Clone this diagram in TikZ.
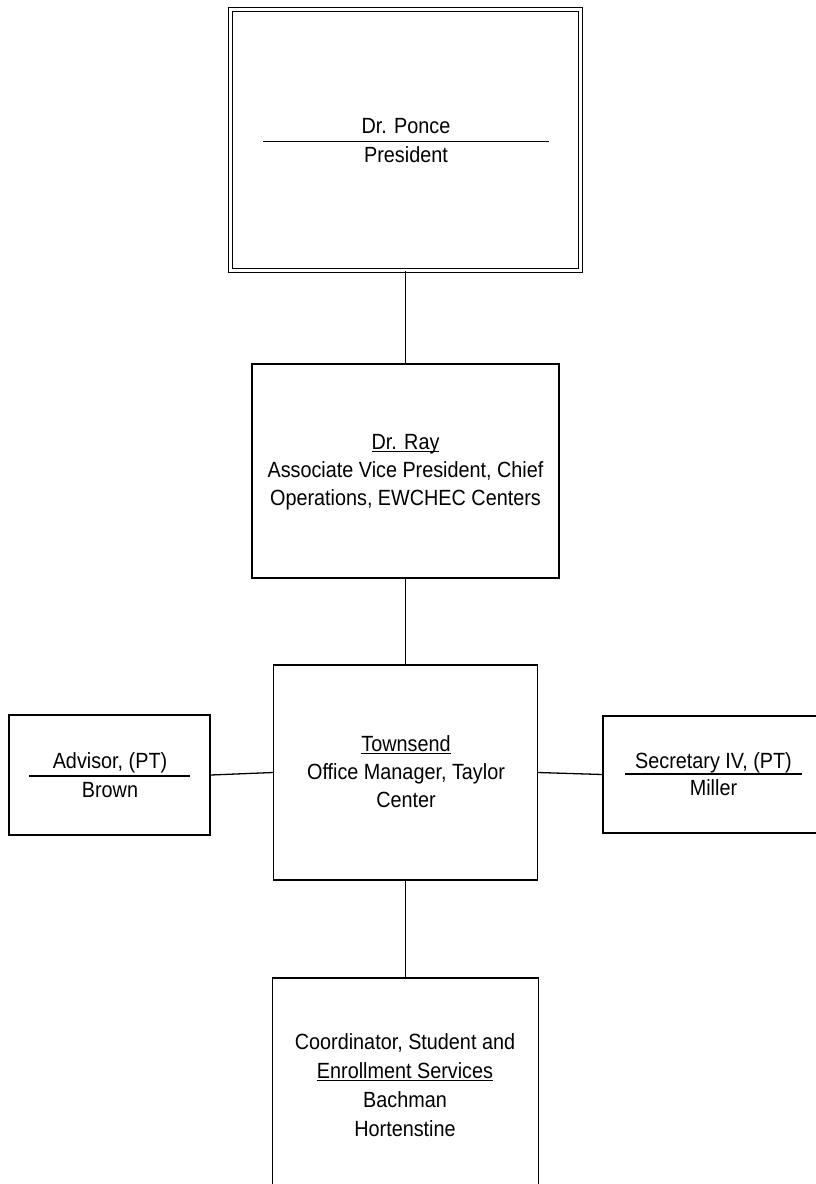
\documentclass[tikz,border=0pt]{standalone}
\usepackage{fontspec}
\setmainfont{Liberation Sans}[FakeStretch=0.9]
\newcommand\ulin[1]{\setbox0\hbox{#1}\rlap{\rule[-2.6pt]{\wd0}{1pt}}\box0}
\tikzset{
  box/.style={draw, rectangle, line width=1.4pt, inner sep=0pt},
  lbl/.style={font=\fontsize{22}{28}\selectfont, inner sep=0pt, align=center},
  conn/.style={line width=1.3pt},
  rulel/.style={line width=1.3pt}
}
\begin{document}
\begin{tikzpicture}[x=1pt,y=-1pt]
\useasboundingbox (0,0) rectangle (816,1184);
\clip (0,0) rectangle (816,1184);
\fill[white] (0,0) rectangle (816,1184);
% boxes
\node[box, double, double distance=2.6pt, line width=1.4pt, minimum width=350pt, minimum height=261pt] (ponce) at (405.5,140) {};
\node[box, minimum width=307pt, minimum height=214pt] (ray) at (405.5,471) {};
\node[box, minimum width=264pt, minimum height=215pt] (town) at (405.5,772.5) {};
\node[box, minimum width=266pt, minimum height=250pt] (coord) at (405.5,1103) {};
\node[box, minimum width=201pt, minimum height=120pt] (adv) at (109.5,775) {};
\node[box, minimum width=220pt, minimum height=117pt] (sec) at (713,774.5) {};
% texts
\node[lbl, anchor=base] (ponceN) at (406,133) {Dr. Ponce};
\node[lbl, anchor=base] (ponceT) at (406,162.5) {President};
\draw[rulel] (263,141.5) -- (549,141.5);
\node[lbl] (rayT) at (405.5,472.4) {\ulin{Dr. Ray}\\Associate Vice President, Chief\\Operations, EWCHEC Centers};
\node[lbl] (townT) at (406,772) {\ulin{Townsend}\\Office Manager, Taylor\\Center};
\node[lbl, font=\fontsize{22}{29}\selectfont] (coordT) at (405,1085.5) {Coordinator, Student and\\\ulin{Enrollment Services}\\Bachman\\Hortenstine};
\node[lbl, anchor=base] (advN) at (110,768) {Advisor, (PT)};
\node[lbl, anchor=base] (advT) at (110,797) {Brown};
\draw[rulel] (29,776) -- (190,776);
\node[lbl, anchor=base] (secN) at (713.5,768) {Secretary IV, (PT)};
\node[lbl, anchor=base] (secT) at (713.5,795) {Miller};
\draw[rulel] (625,774) -- (802,774);
% connectors
\draw[conn] (ponce.south) -- (ray.north);
\draw[conn] (ray.south) -- (town.north);
\draw[conn] (town.south) -- (coord.north);
\draw[conn] (adv.east) -- (town.west);
\draw[conn] (town.east) -- (sec.west);
\end{tikzpicture}
\end{document}
